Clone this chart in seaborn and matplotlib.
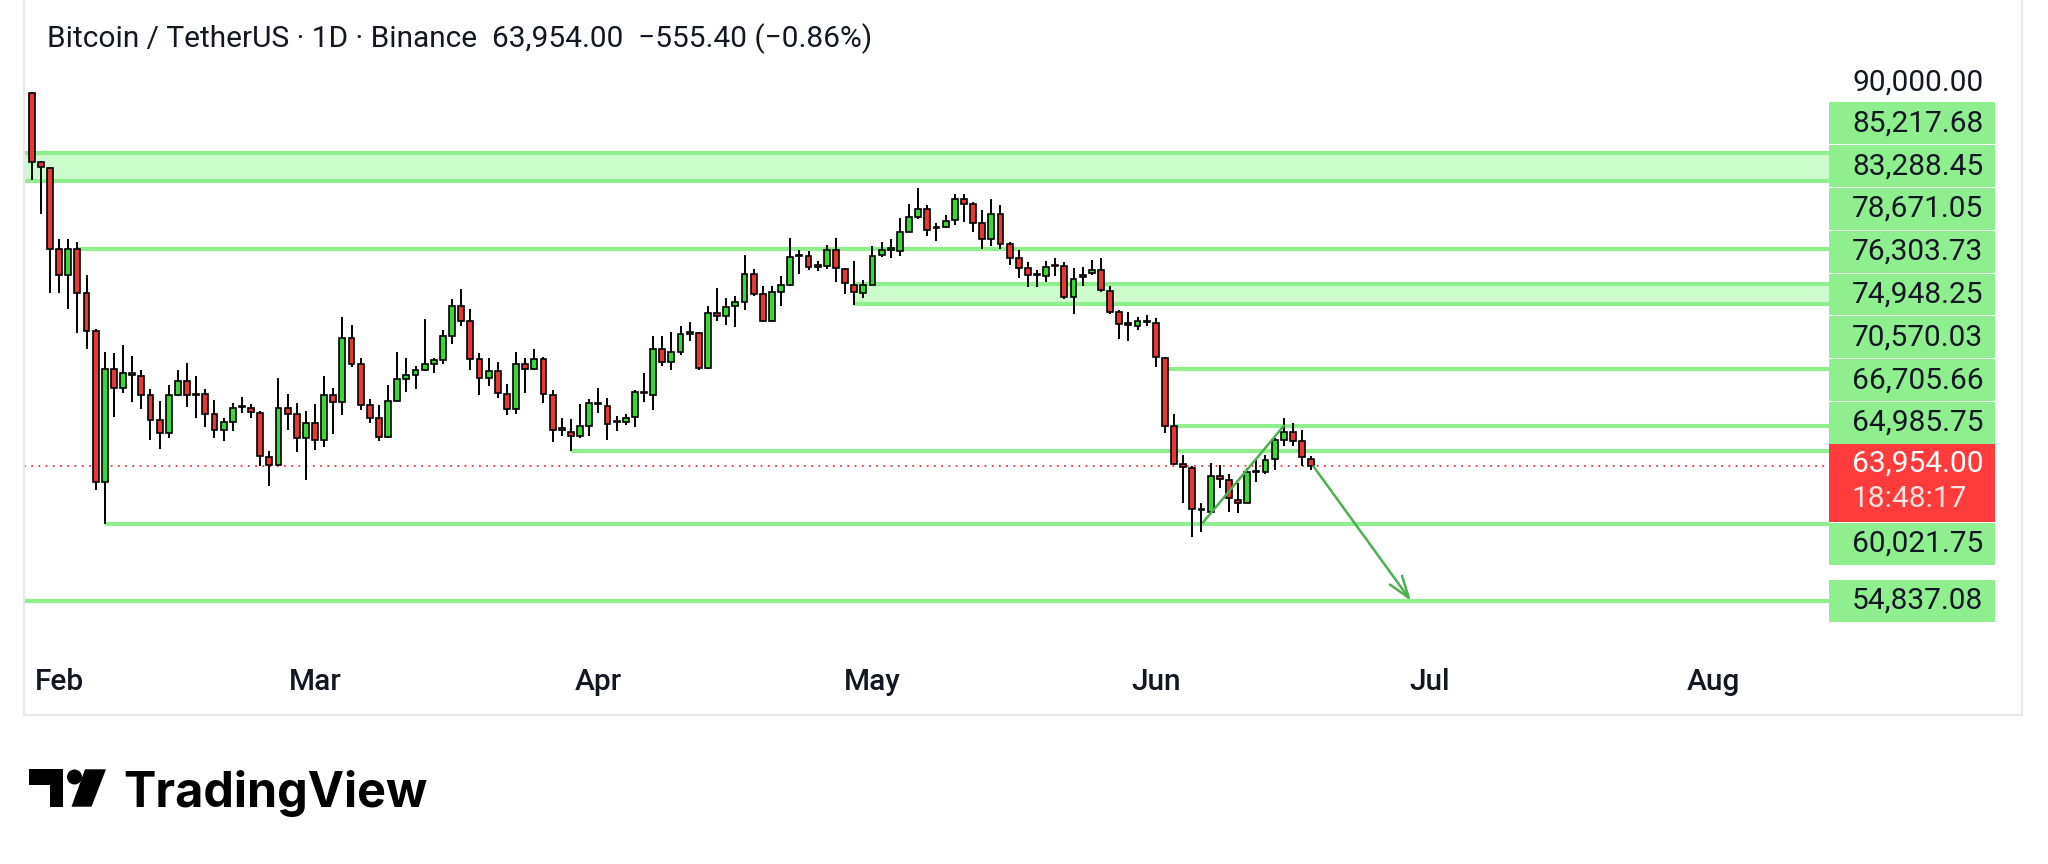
import matplotlib
matplotlib.use('Agg')
import matplotlib.pyplot as plt
import matplotlib.dates as mdates
import matplotlib.transforms as mtransforms
from matplotlib.patches import Rectangle, Circle, Polygon
from matplotlib.lines import Line2D
import numpy as np
import pandas as pd
import seaborn as sns

# --- daily candles BTC/USDT, first bar 2026-01-29 ---
first_day = '2026-01-29'
opens = [89265, 84566, 84202,
         78709, 76938, 78709, 75713, 73102, 62864, 70537, 69243, 70265, 70083,
         68789, 67064, 66224, 68789, 69743, 68850, 68834, 67473, 66451, 66973,
         67950, 67927, 67586, 64590, 64022, 67927, 67473, 65884,
         66905, 65725, 68789, 68335, 72625, 70878, 68085, 67246, 65952, 68381,
         69901, 70151, 70492, 70878, 71173, 72762, 74850, 73829, 71218, 69924,
         70424, 68834, 67858, 70878, 70537, 71263, 68766, 66451, 66292, 65998, 66723,
         68222, 68040, 66950, 66950, 67291, 68948, 68789, 71899, 71036, 71740,
         72950, 72989, 70651, 74350, 74124, 74805, 75122, 77006, 75645, 73783,
         75803, 76257, 78200, 78187, 77550, 77574, 78641, 77347, 76280, 75713,
         76280, 78255, 78650, 78527, 79844, 80866, 81388, 80100, 80184, 80638,
         82114, 81728, 80480, 79345, 81047, 79050, 78073, 77392, 76950, 76848,
         77550, 77574, 75417, 76779, 77074, 77301, 75872, 74396, 73580, 73488, 73750,
         73647, 71332, 66723, 64136, 63840, 61000, 60889, 63318, 63000, 61684,
         61502, 63590, 63545, 64453, 65725, 66270, 65657, 64453]
highs = [89330, 84657, 84271,
         79345, 79345, 79163, 76938, 73261, 71717, 71672, 72194, 71445, 70492,
         69220, 68380, 69470, 70492, 70946, 70083, 69220, 68449, 67246, 68222,
         68676, 68154, 67700, 64976, 69970, 68834, 68222, 67700,
         68154, 70083, 69243, 74056, 73533, 71332, 68494, 68108, 69447, 71740,
         71286, 70764, 73942, 71332, 73216, 75304, 75985, 74623, 71627, 71332,
         71036, 69516, 71740, 71332, 71899, 71400, 69130, 67246, 67132, 68154, 68539,
         69288, 68608, 67359, 67473, 69130, 70310, 72762, 72807, 73080, 73443,
         73760, 73080, 74850, 76030, 75349, 75486, 78255, 77347, 76212, 76212,
         76893, 79435, 78641, 78527, 77846, 78981, 79435, 77392, 77846, 76621,
         78868, 79163, 79390, 80797, 81774, 82820, 81660, 80480, 81024, 82454,
         82454, 81887, 81319, 82069, 81660, 79163, 78595, 77801, 77301, 77846,
         78073, 77801, 77392, 77460, 77914, 78073, 76167, 74578, 74442, 74056, 74214,
         73987, 71400, 67473, 64749, 63954, 61457, 64181, 64067, 63455, 62819,
         63840, 64363, 64749, 65884, 67246, 66905, 66406, 64680]
lows = [83363, 81093, 75713,
        75713, 74623, 72989, 71899, 62365, 60027, 67314, 68948, 68312, 67813,
        65770, 65157, 65884, 68721, 67995, 67246, 66633, 65884, 65657, 66338,
        67541, 67246, 63954, 62592, 63954, 66451, 64930, 63046,
        65089, 65271, 66179, 67404, 70696, 67768, 66905, 65657, 65884, 68381,
        68993, 69220, 70424, 70310, 70878, 72240, 73443, 70492, 68766, 69402,
        68608, 67404, 67473, 68948, 70492, 68222, 65589, 65998, 64976, 65884, 65998,
        67586, 65725, 66338, 66792, 66633, 68312, 67768, 70764, 70492, 71490,
        72466, 70492, 70583, 73829, 73533, 73375, 74578, 75486, 73760, 73715,
        74850, 76167, 77006, 77301, 77234, 77347, 76484, 75645, 74896, 75349,
        76257, 78142, 78074, 78210, 79844, 80752, 79549, 79209, 80116, 80298,
        80525, 79844, 78709, 78890, 78663, 77619, 76711, 76098, 76098, 76484,
        76893, 75304, 74283, 76167, 76938, 75758, 74283, 72580, 72466, 73216, 73443,
        70719, 66224, 64067, 61457, 59187, 59527, 60776, 62478, 60889, 60821,
        61457, 62864, 63455, 63727, 65361, 65361, 63954, 63727]
closes = [84611, 84271, 78709,
          76938, 78709, 75713, 73102, 62864, 70537, 69243, 70265, 70150, 68789,
          67064, 66224, 68789, 69743, 68789, 68800, 67473, 66451, 66973, 67927,
          68000, 67631, 64635, 64022, 67927, 67473, 65884, 66905,
          65725, 68789, 68335, 72625, 70878, 68085, 67246, 65952, 68381, 69901,
          70151, 70492, 70878, 71173, 72762, 74850, 73829, 71218, 69924, 70424,
          68902, 67858, 70878, 70537, 71263, 68834, 66451, 66500, 65998, 66723, 68222,
          68154, 66860, 67000, 67246, 68993, 69000, 71899, 71036, 71740, 72920,
          73000, 70651, 74350, 74124, 74737, 75122, 77006, 75645, 73783, 75758,
          76257, 78142, 78255, 77460, 77500, 78641, 77392, 76370, 75758, 76280,
          78187, 78641, 78700, 79844, 80866, 81388, 80003, 80120, 80593, 82114,
          81774, 80480, 79345, 81092, 79050, 78096, 77392, 76938, 76900, 77460,
          77600, 75417, 76666, 76938, 77279, 75940, 74396, 73602, 73560, 73806, 73790,
          71400, 66723, 64136, 63886, 61048, 61050, 63273, 63091, 61798, 61457,
          63545, 63620, 64408, 65725, 66270, 65657, 64590, 63954]

# horizontal levels drawn on the chart
level_prices = [85217.68, 83288.45, 78671.05, 76303.73, 74948.25,
                70570.03, 66705.66, 64985.75, 60021.75, 54837.08]
level_starts = [None, None, '2026-02-03', '2026-04-29', '2026-04-29',
                '2026-06-02', '2026-06-03', '2026-03-29', '2026-02-06', None]
zones = [(83288.45, 85217.68, None), (74948.25, 76303.73, '2026-04-29')]
axis_tick = 90000.00
last_price = 63954.00
countdown = '18:48:17'
title = 'Bitcoin / TetherUS · 1D · Binance  63,954.00  −555.40 (−0.86%)'

# drawings: rising channel line and projected move
trend_dates = ['2026-06-06 04:00', '2026-06-15 00:00']
trend_prices = [60150, 66700]
arrow_dates = ['2026-06-18 06:00', '2026-06-28 22:00']
arrow_prices = [63954, 54837]

month_ticks = ['2026-02-01', '2026-03-01', '2026-04-01', '2026-05-01',
               '2026-06-01', '2026-07-01', '2026-08-01']
month_labels = ['Feb', 'Mar', 'Apr', 'May', 'Jun', 'Jul', 'Aug']

# --- style ---
sns.set_theme(style='white')
plt.rcParams['font.family'] = ['Roboto', 'DejaVu Sans']
TXT = '#131722'
UP, DOWN = '#3ad63a', '#e53935'
LVL = '#8fef8f'
ZONE = '#ccfccc'
ARROW = '#4caf50'
RED_BOX = '#ff3b3b'

W, H = 2048, 864
fig = plt.figure(figsize=(W / 100, H / 100), dpi=100, facecolor='white')


def fx(px):
    return px / W


def fy(py):
    return 1 - py / H


top_px, bot_px = 60, 650
ax = fig.add_axes([fx(24), fy(bot_px), fx(1829) - fx(24), fy(top_px) - fy(bot_px)])
ax.set_facecolor('none')
for s in ax.spines.values():
    s.set_visible(False)
ax.set_xticks([])
ax.set_yticks([])

dates = pd.date_range(first_day, periods=len(opens), freq='D')
x = mdates.date2num(dates)
x0 = x[0] - 0.84
x1 = x0 + 197.5
y0, y1 = 51501, 91509
ax.set_xlim(x0, x1)
ax.set_ylim(y0, y1)
ppp = (y1 - y0) / (bot_px - top_px)  # price per pixel


def dnum(d):
    return x0 if d is None else mdates.date2num(pd.Timestamp(d))


# zones and levels
for lo, hi, st in zones:
    ax.fill_between([dnum(st), x1], lo, hi, color=ZONE, lw=0, zorder=1)
for p, st in zip(level_prices, level_starts):
    ax.hlines(p, dnum(st), x1, color=LVL, lw=3.0, zorder=2)
ax.axhline(last_price, color='#f23645', ls=(0, (1, 3)), lw=1.3, zorder=2)

# candles
o = np.array(opens, float)
c = np.array(closes, float)
hi_ = np.array(highs, float)
lo_ = np.array(lows, float)
up = c >= o
ax.vlines(x, lo_, hi_, color='black', lw=1.4, zorder=3)
body = np.maximum(np.abs(c - o), 1.2 * ppp)
ax.bar(x, body, bottom=np.minimum(o, c), width=0.64,
       color=np.where(up, UP, DOWN), edgecolor='black', linewidth=1.2, zorder=4)

# drawings
ax.plot(mdates.date2num(pd.to_datetime(trend_dates)), trend_prices, color=ARROW, lw=1.8, zorder=5)
a_x = mdates.date2num(pd.to_datetime(arrow_dates))
ax.annotate('', xy=(a_x[1], arrow_prices[1]), xytext=(a_x[0], arrow_prices[0]),
            arrowprops=dict(arrowstyle='->,head_length=1.3,head_width=0.45',
                            color=ARROW, lw=1.8, shrinkA=0, shrinkB=0), zorder=5)

# time axis labels
trans = mtransforms.blended_transform_factory(ax.transData, ax.transAxes)
for d, lab in zip(month_ticks, month_labels):
    ax.text(dnum(d), -(682 - bot_px) / (bot_px - top_px), lab, transform=trans,
            ha='center', va='center', fontsize=21.5, fontweight='medium', color=TXT)

# price scale column
axp = fig.add_axes([fx(1829), fy(bot_px), fx(2022) - fx(1829), fy(top_px) - fy(bot_px)])
axp.set_xlim(0, 193)
axp.set_ylim(y0, y1)
axp.axis('off')

lab_h = 42.8 * ppp
box_top = last_price + 22 * ppp
box_bot = last_price - 56 * ppp

# stack labels like the price scale does: push apart from the live price box
above = sorted([p for p in level_prices if p > last_price])
below = sorted([p for p in level_prices if p < last_price], reverse=True)
pos = {}
edge = box_top
for p in above:
    yc = max(p, edge + lab_h / 2)
    pos[p] = yc
    edge = yc + lab_h / 2
edge = box_bot
for p in below:
    yc = min(p, edge - lab_h / 2)
    pos[p] = yc
    edge = yc - lab_h / 2

for p, yc in pos.items():
    axp.add_patch(Rectangle((0.3, yc - lab_h / 2 + 0.5 * ppp), 165.7, lab_h - 1.0 * ppp,
                            facecolor=LVL, edgecolor='none', zorder=2))
    axp.text(23, yc, f'{p:,.2f}', ha='left', va='center', fontsize=21.5, color=TXT, zorder=3)

axp.add_patch(Rectangle((0.3, box_bot), 165.7, box_top - box_bot,
                        facecolor=RED_BOX, edgecolor='none', zorder=2))
axp.text(23, last_price + 3 * ppp, f'{last_price:,.2f}', ha='left', va='center',
         fontsize=21.5, color='white', zorder=3)
axp.text(23, last_price - 33 * ppp, countdown, ha='left', va='center',
         fontsize=21.5, color='#ffe4e4', zorder=3)
axp.text(23, axis_tick, f'{axis_tick:,.2f}', ha='left', va='center',
         fontsize=21.5, color=TXT, zorder=3)

# title
fig.text(fx(47), fy(39), title, ha='left', va='center', fontsize=21.5, color=TXT)

# pane border
for (xa, ya, xb, yb) in [(23.5, 0, 23.5, 714.5), (23.5, 714.5, 2022, 714.5), (2022, 0, 2022, 714.5)]:
    fig.add_artist(Line2D([fx(xa), fx(xb)], [fy(ya), fy(yb)], color='#e6e8ee', lw=1.5))

# TradingView mark
ov = fig.add_axes([0, 0, 1, 1])
ov.set_xlim(0, W)
ov.set_ylim(H, 0)
ov.axis('off')
ov.patch.set_alpha(0)
ov.add_patch(Polygon([(29.3, 769.3), (63.3, 769.3), (63.3, 806.7), (50, 806.7), (50, 785), (29.3, 785)],
                     closed=True, facecolor='black', edgecolor='none'))
ov.add_patch(Circle((74.5, 777), 7.5, facecolor='black', edgecolor='none'))
ov.add_patch(Polygon([(85, 769.3), (106, 769.3), (91.5, 806.7), (71.5, 806.7)],
                     closed=True, facecolor='black', edgecolor='none'))
ov.text(123, 807, 'TradingView', ha='left', va='baseline', fontsize=35,
        fontweight='bold', color='black', family=['Inter', 'Roboto', 'DejaVu Sans'])

fig.savefig('out.png', dpi=100, facecolor='white')
